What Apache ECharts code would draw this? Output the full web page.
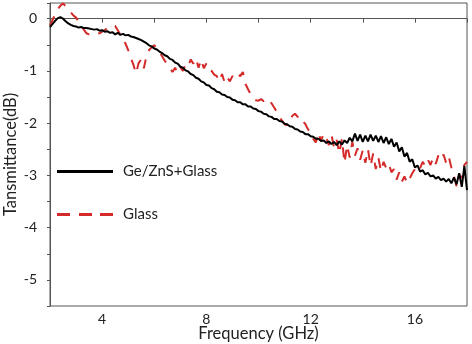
<!DOCTYPE html>
<html>
<head>
<meta charset="utf-8">
<script src="https://cdn.jsdelivr.net/npm/echarts@6/dist/echarts.min.js"></script>
<style>
  html, body { margin: 0; padding: 0; background: #fff; }
  #chart { width: 472px; height: 344px; }
</style>
</head>
<body>
<div id="chart"></div>
<script>
// frequency grid (GHz)
const freq = [
  2.0, 2.1, 2.2, 2.3, 2.4, 2.5, 2.6, 2.7, 2.8, 2.9,
  3.0, 3.1, 3.2, 3.3, 3.4, 3.5, 3.6, 3.7, 3.8, 3.9,
  4.0, 4.1, 4.2, 4.3, 4.4, 4.5, 4.6, 4.7, 4.8, 4.9,
  5.0, 5.1, 5.2, 5.3, 5.4, 5.5, 5.6, 5.7, 5.8, 5.9,
  6.0, 6.1, 6.2, 6.3, 6.4, 6.5, 6.6, 6.7, 6.8, 6.9,
  7.0, 7.1, 7.2, 7.3, 7.4, 7.5, 7.6, 7.7, 7.8, 7.9,
  8.0, 8.1, 8.2, 8.3, 8.4, 8.5, 8.6, 8.7, 8.8, 8.9,
  9.0, 9.1, 9.2, 9.3, 9.4, 9.5, 9.6, 9.7, 9.8, 9.9,
  10.0, 10.1, 10.2, 10.3, 10.4, 10.5, 10.6, 10.7, 10.8, 10.9,
  11.0, 11.1, 11.2, 11.3, 11.4, 11.5, 11.6, 11.7, 11.8, 11.9,
  12.0, 12.1, 12.2, 12.3, 12.4, 12.5, 12.6, 12.7, 12.8, 12.9,
  13.0, 13.1, 13.2, 13.3, 13.4, 13.5, 13.6, 13.7, 13.8, 13.9,
  14.0, 14.1, 14.2, 14.3, 14.4, 14.5, 14.6, 14.7, 14.8, 14.9,
  15.0, 15.1, 15.2, 15.3, 15.4, 15.5, 15.6, 15.7, 15.8, 15.9,
  16.0, 16.1, 16.2, 16.3, 16.4, 16.5, 16.6, 16.7, 16.8, 16.9,
  17.0, 17.1, 17.2, 17.3, 17.4, 17.5, 17.6, 17.7, 17.8, 17.9,
  18.0
]

// Ge/ZnS+Glass (dB)
const geZnsGlass = [
  -0.16, -0.10, -0.04, 0.01, 0.03, 0.00, -0.05, -0.09, -0.12, -0.14,
  -0.15, -0.17, -0.16, -0.18, -0.18, -0.19, -0.20, -0.21, -0.20, -0.23,
  -0.22, -0.25, -0.24, -0.27, -0.26, -0.30, -0.27, -0.31, -0.29, -0.32,
  -0.31, -0.34, -0.35, -0.37, -0.39, -0.41, -0.44, -0.47, -0.51, -0.53,
  -0.57, -0.59, -0.63, -0.66, -0.70, -0.72, -0.77, -0.79, -0.84, -0.86,
  -0.92, -0.94, -0.99, -1.01, -1.06, -1.08, -1.13, -1.15, -1.20, -1.22,
  -1.27, -1.28, -1.33, -1.35, -1.40, -1.41, -1.45, -1.46, -1.50, -1.51,
  -1.55, -1.56, -1.60, -1.60, -1.64, -1.64, -1.68, -1.68, -1.72, -1.73,
  -1.77, -1.78, -1.82, -1.83, -1.87, -1.88, -1.92, -1.92, -1.96, -1.97,
  -2.01, -2.02, -2.06, -2.07, -2.11, -2.12, -2.16, -2.17, -2.21, -2.21,
  -2.25, -2.26, -2.30, -2.30, -2.34, -2.33, -2.38, -2.35, -2.40, -2.36,
  -2.42, -2.35, -2.41, -2.33, -2.38, -2.28, -2.35, -2.20, -2.34, -2.22,
  -2.36, -2.24, -2.35, -2.22, -2.34, -2.24, -2.36, -2.25, -2.38, -2.27,
  -2.40, -2.30, -2.45, -2.37, -2.54, -2.46, -2.64, -2.57, -2.74, -2.69,
  -2.85, -2.81, -2.93, -2.90, -2.98, -2.95, -3.02, -3.00, -3.06, -3.03,
  -3.09, -3.06, -3.12, -3.07, -3.15, -3.04, -3.17, -2.96, -3.22, -2.82,
  -3.28
]

// Glass (dB)
const glass = [
  -0.13, -0.02, 0.08, 0.18, 0.25, 0.29, 0.24, 0.18, 0.12, 0.06,
  0.02, -0.06, -0.14, -0.21, -0.28, -0.30, -0.29, -0.28, -0.29, -0.28,
  -0.25, -0.22, -0.18, -0.15, -0.13, -0.14, -0.22, -0.31, -0.40, -0.48,
  -0.60, -0.75, -0.88, -1.05, -0.85, -0.78, -0.95, -0.72, -0.60, -0.55,
  -0.51, -0.56, -0.63, -0.72, -0.80, -0.88, -0.95, -1.02, -0.94, -1.04,
  -0.93, -1.00, -0.88, -0.92, -0.78, -0.86, -0.76, -0.94, -0.78, -0.95,
  -0.86, -0.99, -1.00, -1.07, -1.10, -1.20, -1.06, -1.22, -1.12, -1.20,
  -1.10, -1.14, -1.06, -1.10, -1.02, -1.25, -1.35, -1.45, -1.52, -1.56,
  -1.57, -1.54, -1.58, -1.53, -1.57, -1.62, -1.70, -1.78, -1.88, -1.95,
  -2.02, -2.04, -1.95, -1.86, -1.82, -1.88, -1.86, -1.96, -2.02, -2.12,
  -2.18, -2.30, -2.37, -2.18, -2.34, -2.20, -2.28, -2.42, -2.22, -2.47,
  -2.32, -2.58, -2.30, -2.76, -2.42, -2.66, -2.36, -2.62, -2.48, -2.70,
  -2.52, -2.76, -2.50, -2.82, -2.58, -2.88, -2.66, -2.92, -2.74, -2.86,
  -2.78, -2.94, -2.88, -3.08, -2.94, -3.12, -3.02, -3.15, -3.06, -2.96,
  -2.88, -2.80, -2.86, -2.74, -2.82, -2.70, -2.80, -2.66, -2.78, -2.62,
  -2.70, -2.60, -2.76, -2.64, -2.85, -3.02, -3.21, -2.98, -3.05, -2.80,
  -2.74
]

const xLabels = [4, 8, 12, 16]
const yLabels = [0, -1, -2, -3, -4, -5]

const font = 'Lato, "Open Sans", sans-serif'
const chart = echarts.init(document.getElementById('chart'))

const option = {
  animation: false,
  textStyle: { fontFamily: font },
  grid: {
    left: 50,
    right: 5,
    top: 3,
    bottom: 38,
    outerBoundsMode: 'none',
    show: true,
    borderColor: '#555',
    borderWidth: 1
  },
  legend: {
    orient: 'vertical',
    left: 57,
    top: 164,
    padding: 0,
    itemWidth: 56,
    itemHeight: 3,
    itemGap: 28,
    symbolKeepAspect: false,
    textStyle: { fontFamily: font, fontSize: 15, color: '#222', padding: [0, 0, 0, 5] },
    data: [
      { name: 'Ge/ZnS+Glass', icon: 'path://M0,0h56v3h-56z' },
      { name: 'Glass', icon: 'path://M0,0h13v3h-13zM22,0h13v3h-13zM43,0h13v3h-13z' }
    ]
  },
  xAxis: {
    type: 'value',
    min: 2,
    max: 18,
    interval: 2,
    name: 'Frequency (GHz)',
    nameLocation: 'middle',
    nameGap: 19,
    nameMoveOverlap: false,
    nameTextStyle: { fontFamily: font, fontSize: 16.5, color: '#222' },
    axisLine: { lineStyle: { color: '#555', width: 1 } },
    axisTick: { show: true, length: 4, lineStyle: { color: '#555' } },
    axisLabel: {
      margin: 6,
      fontSize: 14,
      color: '#222',
      fontFamily: font,
      formatter: v => xLabels.includes(v) ? String(v) : ''
    },
    splitLine: { show: false }
  },
  yAxis: {
    type: 'value',
    min: -5.5,
    max: 0.3,
    interval: 0.5,
    name: 'Tansmittance(dB)',
    nameLocation: 'middle',
    nameGap: 31,
    nameMoveOverlap: false,
    nameTextStyle: { fontFamily: font, fontSize: 16.5, color: '#222' },
    axisLine: { show: true, lineStyle: { color: '#555', width: 1 } },
    axisTick: { show: true, length: 3, lineStyle: { color: '#555' } },
    axisLabel: {
      margin: 13,
      fontSize: 14,
      color: '#222',
      fontFamily: font,
      formatter: v => yLabels.includes(v) ? String(v) : ''
    },
    splitLine: { show: false }
  },
  series: [
    {
      name: 'Ge/ZnS+Glass',
      type: 'line',
      symbol: 'none',
      data: freq.map((f, i) => [f, geZnsGlass[i]]),
      lineStyle: { color: '#000', width: 2 },
      itemStyle: { color: '#000' },
      z: 3
    },
    {
      name: 'Glass',
      type: 'line',
      symbol: 'none',
      data: freq.map((f, i) => [f, glass[i]]),
      lineStyle: { color: '#d42a2a', width: 2, type: [10, 9] },
      itemStyle: { color: '#d42a2a' },
      z: 2
    }
  ]
}

chart.setOption(option)
</script>
</body>
</html>
